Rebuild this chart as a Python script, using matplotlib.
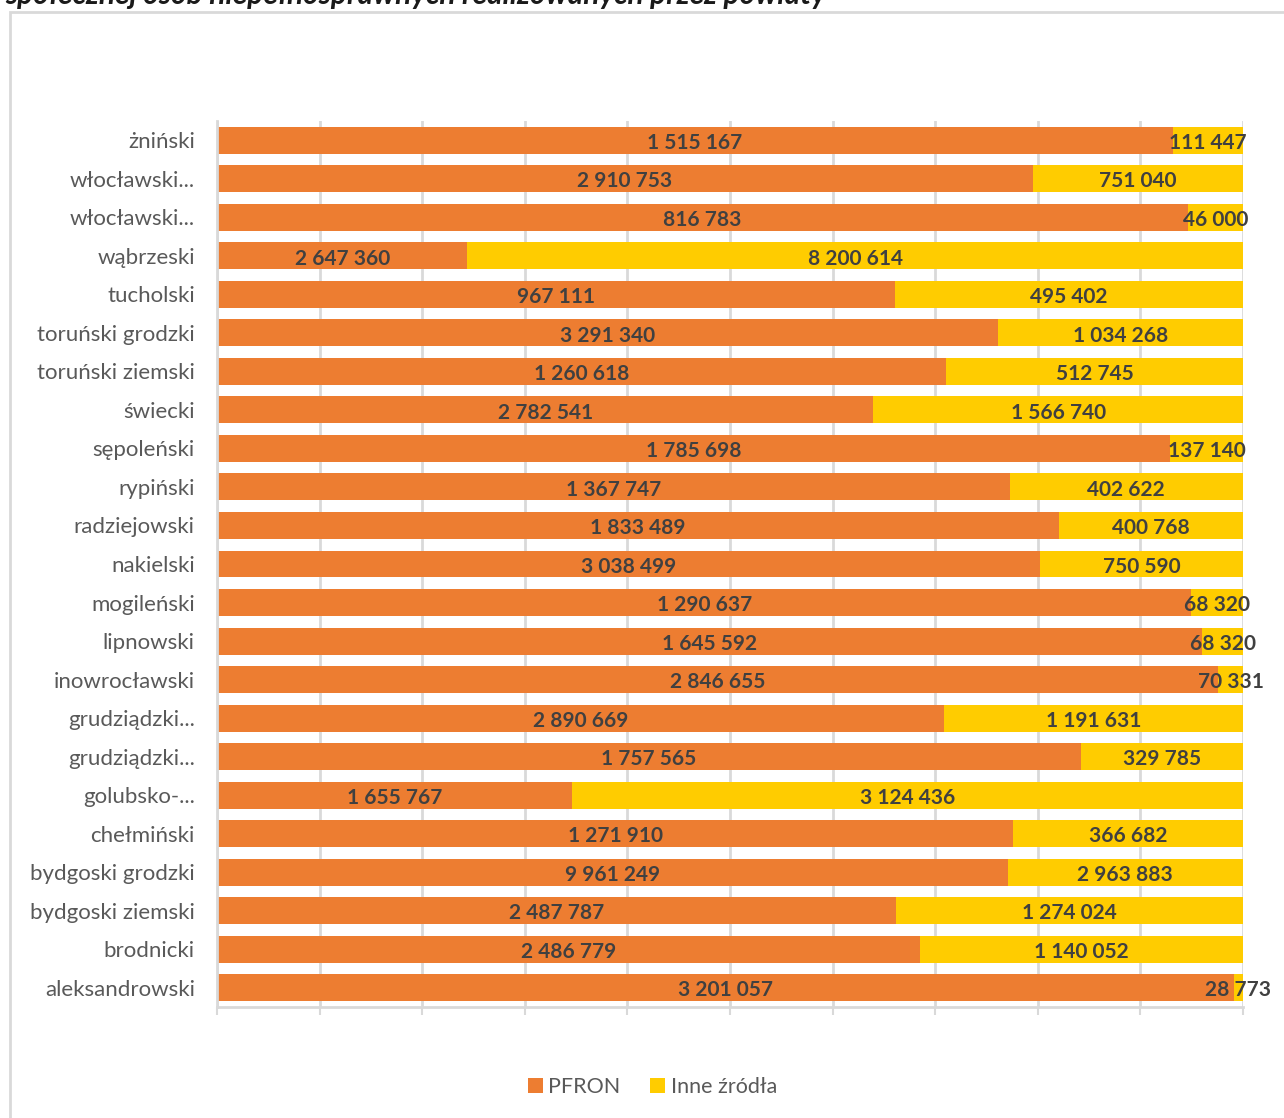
import numpy as np
import matplotlib
matplotlib.use('Agg')
import matplotlib.pyplot as plt
from matplotlib.patches import Rectangle

plt.rcParams['font.family'] = ['Lato', 'DejaVu Sans']

# powiaty, top to bottom as in the chart
powiaty = ['żniński', 'włocławski...', 'włocławski...', 'wąbrzeski', 'tucholski',
           'toruński grodzki', 'toruński ziemski', 'świecki', 'sępoleński', 'rypiński',
           'radziejowski', 'nakielski', 'mogileński', 'lipnowski', 'inowrocławski',
           'grudziądzki...', 'grudziądzki...', 'golubsko-...', 'chełmiński',
           'bydgoski grodzki', 'bydgoski ziemski', 'brodnicki', 'aleksandrowski']
pfron = [1515167, 2910753, 816783, 2647360, 967111, 3291340, 1260618, 2782541,
         1785698, 1367747, 1833489, 3038499, 1290637, 1645592, 2846655, 2890669,
         1757565, 1655767, 1271910, 9961249, 2487787, 2486779, 3201057]
inne = [111447, 751040, 46000, 8200614, 495402, 1034268, 512745, 1566740,
        137140, 402622, 400768, 750590, 68320, 68320, 70331, 1191631,
        329785, 3124436, 366682, 2963883, 1274024, 1140052, 28773]

orange = '#ED7D31'
yellow = '#FFCC00'
label_col = '#404040'
grid_col = '#D9D9D9'

pfron = np.array(pfron, dtype=float)
inne = np.array(inne, dtype=float)
total = pfron + inne
p_share = pfron / total
i_share = inne / total

W, H = 1284, 1118
fig = plt.figure(figsize=(W / 100, H / 100), dpi=100)

# chart frame (partly cut off on the right and bottom)
fig.patches.append(Rectangle((10 / W, -0.1), 1.2, 1 - 12 / H + 0.1, transform=fig.transFigure,
                             fill=False, edgecolor=grid_col, linewidth=2))

# cut-off title at the very top
fig.text(5 / W, 1 - 4 / H, 'społecznej osób niepełnosprawnych realizowanych przez powiaty',
         fontsize=21.5, fontweight='bold', fontstyle='italic', color='#1a1a1a',
         ha='left', va='baseline')

ax = fig.add_axes([217 / W, 1 - 1007 / H, (1243 - 217) / W, (1007 - 121) / H])

y = np.arange(len(powiaty))[::-1]
ax.barh(y, p_share, height=0.7, color=orange, label='PFRON', zorder=2)
ax.barh(y, i_share, left=p_share, height=0.7, color=yellow, label='Inne źródła', zorder=2)

def fmt(v):
    return f'{int(v):,}'.replace(',', ' ')

for yi, p, i, vp, vi in zip(y, p_share, i_share, pfron, inne):
    ax.text(p / 2, yi - 0.07, fmt(vp), ha='center', va='center', fontsize=15,
            fontweight='bold', color=label_col, zorder=3)
    ax.text(p + i / 2, yi - 0.07, fmt(vi), ha='center', va='center', fontsize=15,
            fontweight='bold', color=label_col, zorder=3)

ax.set_xlim(0, 1)
ax.set_ylim(-0.5, len(powiaty) - 0.5)
ax.set_yticks(y)
ax.set_yticklabels(powiaty, fontsize=16, color='#595959')
ax.tick_params(axis='y', length=0, pad=16)
ax.set_xticks(np.linspace(0, 1, 11))
ax.set_xticklabels([])
ax.tick_params(axis='x', length=6, width=1.5, color=grid_col, direction='out')
ax.grid(axis='x', color=grid_col, linewidth=2, zorder=0)
for s in ['top', 'right']:
    ax.spines[s].set_visible(False)
for s in ['left', 'bottom']:
    ax.spines[s].set_color(grid_col)
    ax.spines[s].set_linewidth(2)

fig.legend(loc='center', bbox_to_anchor=(0.508, 1 - 1087 / H), ncol=2, frameon=False,
           fontsize=15.5, labelcolor='#595959', handlelength=0.7, handleheight=0.7,
           handletextpad=0.25, columnspacing=1.4)

fig.savefig('out.png', dpi=100)
